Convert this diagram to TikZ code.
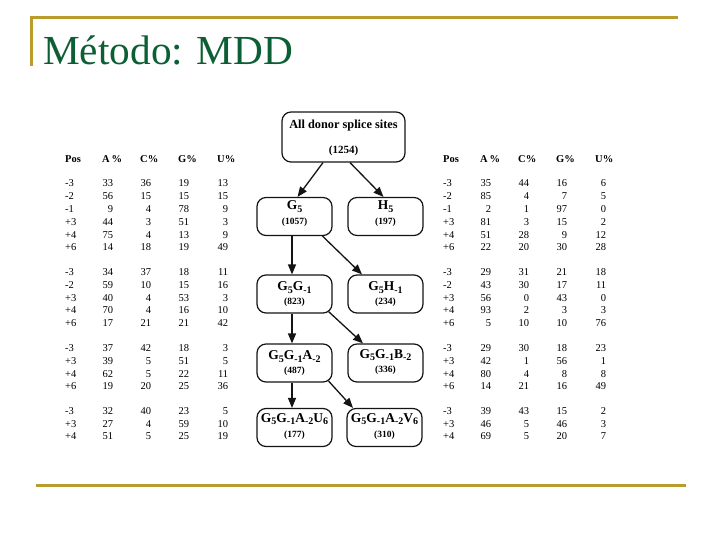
\documentclass[tikz,border=0pt]{standalone}
\usepackage{fontspec}
\setmainfont{Liberation Serif}
\usetikzlibrary{arrows.meta}
\definecolor{gold}{RGB}{186,156,46}
\definecolor{titlegreen}{RGB}{12,94,52}
\definecolor{ink}{RGB}{20,20,20}
\newcommand{\lsub}[1]{\raisebox{-2.6pt}{\fontsize{10}{10}\selectfont #1}}
\newcommand{\trow}[5]{\makebox[0pt][l]{#1}\makebox[48pt][r]{#2}\makebox[38pt][r]{#3}\makebox[38pt][r]{#4}\makebox[39pt][r]{#5}}
\newcommand{\thead}{\bfseries\makebox[37pt][l]{Pos}\makebox[38pt][l]{A\,\%}\makebox[38pt][l]{C\%}\makebox[39pt][l]{G\%}\makebox[20pt][l]{U\%}}
\begin{document}
\begin{tikzpicture}[x=1pt,y=-1pt,
  box/.style={draw=ink, line width=1.2pt, rounded corners=9pt, minimum width=75pt, minimum height=38pt, inner sep=0pt},
  lab/.style={anchor=base, inner sep=0pt, font=\fontsize{13.5}{14}\selectfont\bfseries},
  cnt/.style={anchor=base, inner sep=0pt, font=\fontsize{9.5}{10}\selectfont\bfseries},
  arr/.style={draw=ink, line width=1.3pt, -{Triangle[length=10pt,width=8pt]}},
  cell/.style={anchor=base west, inner sep=0pt, font=\fontsize{10.5}{11}\selectfont},
  goldline/.style={draw=gold, line width=3pt}]
\useasboundingbox (0,0) rectangle (720,540);
\fill[white] (0,0) rectangle (720,540);
% frame lines
\coordinate (tl) at (30,18);
\coordinate (tr) at (678,18);
\coordinate (vb) at (31.5,66);
\coordinate (bl) at (36,485);
\coordinate (br) at (686,485);
\draw[goldline] (tl) -- (tr);
\draw[goldline] ([xshift=1.5pt]tl) -- (vb);
\draw[goldline] (bl) -- (br);
% title
\node[anchor=base west, inner sep=0pt, text=titlegreen, font=\fontsize{41.3}{44}\selectfont] (title) at (43,65) {Método: MDD};
% tree boxes
\node[box, minimum width=123pt, minimum height=50pt] (root) at (343.5,137) {};
\node[box] (g5) at (294.5,216.5) {};
\node[box] (h5) at (385.5,216.5) {};
\node[box] (g5g) at (294.5,294) {};
\node[box] (g5h) at (385.5,294) {};
\node[box] (a2) at (294.5,363) {};
\node[box] (b2) at (385.5,363) {};
\node[box] (u6) at (294.5,427.5) {};
\node[box] (v6) at (384.5,427.5) {};
% tree texts
\node[anchor=base, inner sep=0pt, font=\fontsize{12.3}{13}\selectfont\bfseries] (roott) at (343.5,129) {All donor splice sites};
\node[anchor=base, inner sep=0pt, font=\fontsize{11}{12}\selectfont\bfseries] (rootc) at (343.5,154) {(1254)};
\node[lab] (g5t) at (294.5,210) {G\lsub{5}};
\node[cnt] (g5c) at (294.5,224.5) {(1057)};
\node[lab] (h5t) at (385.5,210) {H\lsub{5}};
\node[cnt] (h5c) at (385.5,224.5) {(197)};
\node[lab] (g5gt) at (294.5,290.5) {G\lsub{5}G\lsub{-1}};
\node[cnt] (g5gc) at (294.5,304.5) {(823)};
\node[lab] (g5ht) at (385.5,290.5) {G\lsub{5}H\lsub{-1}};
\node[cnt] (g5hc) at (385.5,304.5) {(234)};
\node[lab] (a2t) at (294.5,359.5) {G\lsub{5}G\lsub{-1}A\lsub{-2}};
\node[cnt] (a2c) at (294.5,373) {(487)};
\node[lab] (b2t) at (385.5,358) {G\lsub{5}G\lsub{-1}B\lsub{-2}};
\node[cnt] (b2c) at (385.5,372.5) {(336)};
\node[lab] (u6t) at (294.5,422) {G\lsub{5}G\lsub{-1}A\lsub{-2}U\lsub{6}};
\node[cnt] (u6c) at (294.5,437.5) {(177)};
\node[lab] (v6t) at (384.5,422) {G\lsub{5}G\lsub{-1}A\lsub{-2}V\lsub{6}};
\node[cnt] (v6c) at (384.5,437.5) {(310)};
% arrows
\draw[arr] ([xshift=-20.5pt]root.south) -- ([xshift=3pt]g5.north);
\draw[arr] ([xshift=6.5pt]root.south) -- ([xshift=-2pt]h5.north);
\draw[arr] ([xshift=-2.5pt]g5.south) -- ([xshift=-2.5pt]g5g.north);
\draw[arr] ([xshift=28pt]g5.south) -- ([xshift=-23.5pt]g5h.north);
\draw[arr] ([xshift=-2.5pt]g5g.south) -- ([xshift=-2.5pt]a2.north);
\draw[arr] ([xshift=-4pt,yshift=2pt]g5g.south east) -- ([xshift=-22.5pt]b2.north);
\draw[arr] ([xshift=-2.5pt]a2.south) -- ([xshift=-2.5pt]u6.north);
\draw[arr] ([xshift=-4pt,yshift=1.5pt]a2.south east) -- ([xshift=-31.5pt]v6.north);
% left table
\node[cell] (lh) at (65,163) {\thead};
\node[cell] (l11) at (65,187) {\trow{-3}{33}{36}{19}{13}};
\node[cell] (l12) at (65,199.8) {\trow{-2}{56}{15}{15}{15}};
\node[cell] (l13) at (65,212.6) {\trow{-1}{9}{4}{78}{9}};
\node[cell] (l14) at (65,225.4) {\trow{+3}{44}{3}{51}{3}};
\node[cell] (l15) at (65,238.2) {\trow{+4}{75}{4}{13}{9}};
\node[cell] (l16) at (65,251) {\trow{+6}{14}{18}{19}{49}};
\node[cell] (l21) at (65,275.6) {\trow{-3}{34}{37}{18}{11}};
\node[cell] (l22) at (65,288.4) {\trow{-2}{59}{10}{15}{16}};
\node[cell] (l23) at (65,301.1) {\trow{+3}{40}{4}{53}{3}};
\node[cell] (l24) at (65,313.9) {\trow{+4}{70}{4}{16}{10}};
\node[cell] (l25) at (65,326.6) {\trow{+6}{17}{21}{21}{42}};
\node[cell] (l31) at (65,351.6) {\trow{-3}{37}{42}{18}{3}};
\node[cell] (l32) at (65,364.3) {\trow{+3}{39}{5}{51}{5}};
\node[cell] (l33) at (65,377) {\trow{+4}{62}{5}{22}{11}};
\node[cell] (l34) at (65,389.7) {\trow{+6}{19}{20}{25}{36}};
\node[cell] (l41) at (65,414.6) {\trow{-3}{32}{40}{23}{5}};
\node[cell] (l42) at (65,427.1) {\trow{+3}{27}{4}{59}{10}};
\node[cell] (l43) at (65,439.6) {\trow{+4}{51}{5}{25}{19}};
% right table
\node[cell] (rh) at (443,163) {\thead};
\node[cell] (r11) at (443,187) {\trow{-3}{35}{44}{16}{6}};
\node[cell] (r12) at (443,199.8) {\trow{-2}{85}{4}{7}{5}};
\node[cell] (r13) at (443,212.6) {\trow{-1}{2}{1}{97}{0}};
\node[cell] (r14) at (443,225.4) {\trow{+3}{81}{3}{15}{2}};
\node[cell] (r15) at (443,238.2) {\trow{+4}{51}{28}{9}{12}};
\node[cell] (r16) at (443,251) {\trow{+6}{22}{20}{30}{28}};
\node[cell] (r21) at (443,275.6) {\trow{-3}{29}{31}{21}{18}};
\node[cell] (r22) at (443,288.4) {\trow{-2}{43}{30}{17}{11}};
\node[cell] (r23) at (443,301.1) {\trow{+3}{56}{0}{43}{0}};
\node[cell] (r24) at (443,313.9) {\trow{+4}{93}{2}{3}{3}};
\node[cell] (r25) at (443,326.6) {\trow{+6}{5}{10}{10}{76}};
\node[cell] (r31) at (443,351.6) {\trow{-3}{29}{30}{18}{23}};
\node[cell] (r32) at (443,364.3) {\trow{+3}{42}{1}{56}{1}};
\node[cell] (r33) at (443,377) {\trow{+4}{80}{4}{8}{8}};
\node[cell] (r34) at (443,389.7) {\trow{+6}{14}{21}{16}{49}};
\node[cell] (r41) at (443,414.6) {\trow{-3}{39}{43}{15}{2}};
\node[cell] (r42) at (443,427.1) {\trow{+3}{46}{5}{46}{3}};
\node[cell] (r43) at (443,439.6) {\trow{+4}{69}{5}{20}{7}};
\end{tikzpicture}
\end{document}
